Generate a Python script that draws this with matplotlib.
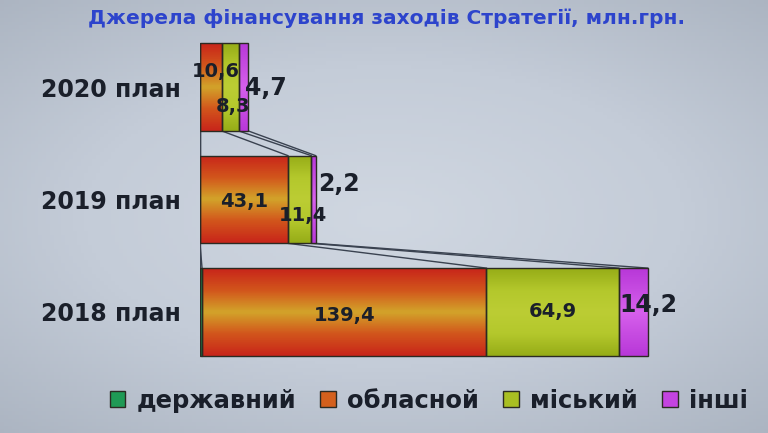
import matplotlib.pyplot as plt
import numpy as np
from matplotlib.colors import LinearSegmentedColormap
from matplotlib.patches import Patch

# Джерела фінансування, млн.грн.
categories = ['2018 план', '2019 план', '2020 план']
derzhavnyi = [1.0, 0.0, 0.0]
oblasnoi = [139.4, 43.1, 10.6]
miskyi = [64.9, 11.4, 8.3]
inshi = [14.2, 2.2, 4.7]

series_names = ['державний', 'обласной', 'міський', 'інші']
series_vals = [derzhavnyi, oblasnoi, miskyi, inshi]
solid = ['#1f9a55', '#d4601c', '#a9bf22', '#c444e0']
grads = [['#137a40', '#2fb868', '#137a40'],
         ['#c8261a', '#d2561c', '#d2a42a', '#d2561c', '#c8261a'],
         ['#97ad18', '#b4c82c', '#bccd34', '#b4c82c', '#97ad18'],
         ['#b838d8', '#d660ec', '#b838d8']]

txt = '#1a1f2a'
fig = plt.figure(figsize=(7.68, 4.33), dpi=100)
fig.patch.set_facecolor('#c6ced9')

# фон з легким затемненням по краях
bg = fig.add_axes([0, 0, 1, 1], zorder=-10)
yy, xx = np.mgrid[-1:1:120j, -1:1:200j]
r = np.sqrt(xx**2 * 0.8 + yy**2)
bg.imshow(r, cmap=LinearSegmentedColormap.from_list('v', ['#d0d7e1', '#c4ccd8', '#aab3c0']),
          extent=[0, 1, 0, 1], aspect='auto', vmin=0, vmax=1.4)
bg.axis('off')

ax = fig.add_axes([200 / 768, 63 / 433, 540 / 768, 340 / 433])
ax.set_facecolor('none')
y = np.arange(len(categories))
h = 0.78
left = np.zeros(len(categories))
bounds = [left.copy()]
for name, vals, col, g in zip(series_names, series_vals, solid, grads):
    bars = ax.barh(y, vals, h, left=left, color=col, label=name, zorder=2)
    cmap = LinearSegmentedColormap.from_list(name, g)
    for b in bars:
        if b.get_width() <= 0:
            continue
        x0, y0 = b.get_x(), b.get_y()
        im = ax.imshow(np.linspace(0, 1, 50).reshape(-1, 1), cmap=cmap, aspect='auto',
                       extent=[x0, x0 + b.get_width(), y0, y0 + b.get_height()], zorder=3)
        im.set_clip_path(b)
    ax.barh(y, vals, h, left=left, fill=False, edgecolor='#2b2a22', linewidth=1.0, zorder=4)
    left = left + np.array(vals)
    bounds.append(left.copy())

# лінії між стовпцями
for i in range(len(categories) - 1):
    for bd in bounds:
        ax.plot([bd[i + 1], bd[i]], [i + 1 - h / 2, i + h / 2], color='#3a4250', lw=1.0, zorder=1)

# підписи даних
lab = dict(fontsize=14, fontweight='bold', color=txt, zorder=6)
big = dict(fontsize=17, fontweight='bold', color=txt, zorder=6)
# 2018
ax.text(derzhavnyi[0] + oblasnoi[0] / 2, 0 - 0.03, '139,4', ha='center', va='center', **lab)
ax.text(derzhavnyi[0] + oblasnoi[0] + miskyi[0] / 2, 0 + 0.0, '64,9', ha='center', va='center', **lab)
ax.text(bounds[3][0] + 0.5, 0 + 0.06, '14,2', ha='left', va='center', **big)
# 2019
ax.text(oblasnoi[1] / 2, 1 - 0.02, '43,1', ha='center', va='center', **lab)
ax.text(oblasnoi[1] + miskyi[1] / 2 + 1.5, 1 - 0.14, '11,4', ha='center', va='center', **lab)
ax.text(bounds[3][1] + 3.5, 1 + 0.14, '2,2', ha='left', va='center', **big)
# 2020
ax.text(oblasnoi[2] / 2 + 2.5, 2 + 0.14, '10,6', ha='center', va='center', **lab)
ax.text(oblasnoi[2] + miskyi[2] / 2 + 1.5, 2 - 0.17, '8,3', ha='center', va='center', **lab)
ax.text(bounds[3][2] + 3.0, 2 - 0.01, '4,7', ha='left', va='center', **big)

ax.set_xlim(0, 540 / 2.04)
ax.set_ylim(-0.516, 2.507)
ax.set_yticks(y, categories, fontsize=17, fontweight='bold', color=txt)
ax.tick_params(axis='y', length=0, pad=14)
ax.set_xticks([])
for s in ax.spines.values():
    s.set_visible(False)

fig.text(0.503, 0.957, 'Джерела фінансування заходів Стратегії, млн.грн.',
         ha='center', va='center', fontsize=14.5, fontweight='bold', color='#2d44cc')

handles = [Patch(facecolor=c, edgecolor='#2b2a22', linewidth=1.0) for c in solid]
fig.legend(handles, series_names, loc='center', bbox_to_anchor=(0.558, 0.075), ncol=4,
           frameon=False, prop=dict(size=17.5, weight='bold'), labelcolor=txt,
           handlelength=0.65, handleheight=0.65, handletextpad=0.45, columnspacing=1.0)

fig.savefig('out.png', dpi=100, facecolor=fig.get_facecolor())
